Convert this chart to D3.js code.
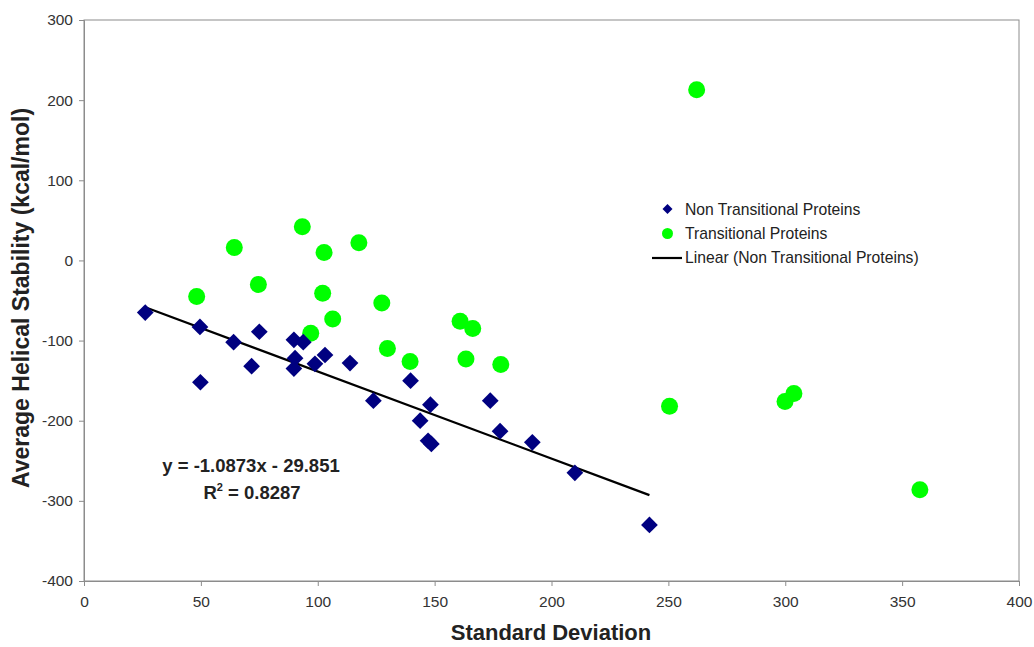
<!DOCTYPE html>
<html>
<head>
<meta charset="utf-8">
<script src="https://cdn.jsdelivr.net/npm/d3@7"></script>
<style>
  body { margin: 0; background: #fff; }
  svg { font-family: "Liberation Sans", Arial, sans-serif; }
  .tick text { fill: #333; font-size: 15.5px; }
  .axis path, .axis line { stroke: #8c8c8c; }
</style>
</head>
<body>
<div id="chart"></div>
<script>
const width = 1034;
const height = 647;
const margin = { top: 20, right: 15, bottom: 66, left: 84 };

// Non transitional proteins: [standard deviation, helical stability]
const nonTransitional = [
  [26.2, -65], [49.6, -83], [49.8, -152], [64.0, -102], [71.7, -132],
  [75.0, -89], [89.8, -99], [93.8, -102], [90.3, -122], [89.8, -135],
  [98.8, -129], [103.1, -118], [113.8, -128], [123.8, -175], [139.7, -150],
  [148.2, -180], [143.8, -200], [147.2, -225], [148.6, -229], [173.8, -175],
  [178.0, -213], [191.8, -227], [210.0, -265], [241.9, -330]
];

// Transitional proteins: [standard deviation, helical stability]
const transitional = [
  [48.2, -45], [64.3, 16], [74.6, -30], [93.4, 42], [102.7, 10],
  [102.1, -41], [106.4, -73], [97.0, -91], [117.6, 22], [127.4, -53],
  [129.8, -110], [139.5, -126], [160.9, -76], [166.3, -85], [163.4, -123],
  [178.3, -130], [250.5, -182], [262.1, 213], [299.9, -176], [303.7, -166],
  [357.6, -286]
];

// Excel linear trendline for the non transitional series
const trendSlope = -1.0873;
const trendIntercept = -29.851;
const trendLabel = 'y = -1.0873x - 29.851';
const r2Value = '0.8287';

const xTicks = [0, 50, 100, 150, 200, 250, 300, 350, 400];
const yTicks = [-400, -300, -200, -100, 0, 100, 200, 300];

const legendItems = ['Non Transitional Proteins', 'Transitional Proteins', 'Linear (Non Transitional Proteins)'];

const blue = '#000080';
const green = '#00ff00';

const svg = d3.select('#chart').append('svg')
  .attr('width', width)
  .attr('height', height);

const x = d3.scaleLinear().domain([0, 400]).range([margin.left, width - margin.right]);
const y = d3.scaleLinear().domain([-400, 300]).range([height - margin.bottom, margin.top]);

// plot frame (top and right edges)
svg.append('rect')
  .attr('x', x(0)).attr('y', y(300))
  .attr('width', x(400) - x(0)).attr('height', y(-400) - y(300))
  .attr('fill', 'none').attr('stroke', '#8c8c8c');

// axes
svg.append('g')
  .attr('class', 'axis')
  .attr('transform', `translate(0,${y(-400)})`)
  .call(d3.axisBottom(x).tickValues(xTicks).tickFormat(d => String(d)).tickSize(5).tickPadding(10));

svg.append('g')
  .attr('class', 'axis')
  .attr('transform', `translate(${x(0)},0)`)
  .call(d3.axisLeft(y).tickValues(yTicks).tickFormat(d => String(d)).tickSize(5).tickPadding(6));

// trendline across the range of the non transitional data
const xExtent = d3.extent(nonTransitional, d => d[0]);
svg.append('line')
  .attr('x1', x(xExtent[0])).attr('y1', y(trendSlope * xExtent[0] + trendIntercept))
  .attr('x2', x(xExtent[1])).attr('y2', y(trendSlope * xExtent[1] + trendIntercept))
  .attr('stroke', '#000').attr('stroke-width', 2.2);

// transitional circles
svg.append('g').selectAll('circle')
  .data(transitional)
  .enter().append('circle')
  .attr('cx', d => x(d[0]))
  .attr('cy', d => y(d[1]))
  .attr('r', 8.5)
  .attr('fill', green);

// non transitional diamonds
const diamond = d3.symbol().type(d3.symbolSquare).size(140);
svg.append('g').selectAll('path')
  .data(nonTransitional)
  .enter().append('path')
  .attr('d', diamond)
  .attr('transform', d => `translate(${x(d[0])},${y(d[1])}) rotate(45)`)
  .attr('fill', blue);

// equation text
svg.append('text')
  .attr('x', 251).attr('y', 472)
  .attr('text-anchor', 'middle')
  .attr('font-weight', 'bold').attr('font-size', 18.5).attr('fill', '#222')
  .text(trendLabel);

const r2 = svg.append('text')
  .attr('x', 252).attr('y', 499)
  .attr('text-anchor', 'middle')
  .attr('font-weight', 'bold').attr('font-size', 18.5).attr('fill', '#222');
r2.append('tspan').text('R');
r2.append('tspan').attr('dy', -8).attr('font-size', 11).text('2');
r2.append('tspan').attr('dy', 8).text(' = ' + r2Value);

// axis titles
svg.append('text')
  .attr('x', 551).attr('y', 640)
  .attr('text-anchor', 'middle')
  .attr('font-weight', 'bold').attr('font-size', 22).attr('fill', '#222')
  .text('Standard Deviation');

svg.append('text')
  .attr('transform', 'translate(29,298) rotate(-90)')
  .attr('text-anchor', 'middle')
  .attr('font-weight', 'bold').attr('font-size', 23).attr('fill', '#222')
  .text('Average Helical Stability (kcal/mol)');

// legend
const legend = svg.append('g').attr('transform', 'translate(652,209)');
const rowGap = 24.5;
legend.selectAll('text')
  .data(legendItems)
  .enter().append('text')
  .attr('x', 33)
  .attr('y', (d, i) => i * rowGap)
  .attr('dy', '0.35em')
  .attr('font-size', 15.7).attr('fill', '#222')
  .text(d => d);

legend.append('path')
  .attr('d', d3.symbol().type(d3.symbolSquare).size(50))
  .attr('transform', 'translate(15.5,0) rotate(45)')
  .attr('fill', blue);
legend.append('circle')
  .attr('cx', 15.5).attr('cy', rowGap).attr('r', 5.5)
  .attr('fill', green);
legend.append('line')
  .attr('x1', 0).attr('x2', 30)
  .attr('y1', rowGap * 2).attr('y2', rowGap * 2)
  .attr('stroke', '#000').attr('stroke-width', 2.2);
</script>
</body>
</html>
